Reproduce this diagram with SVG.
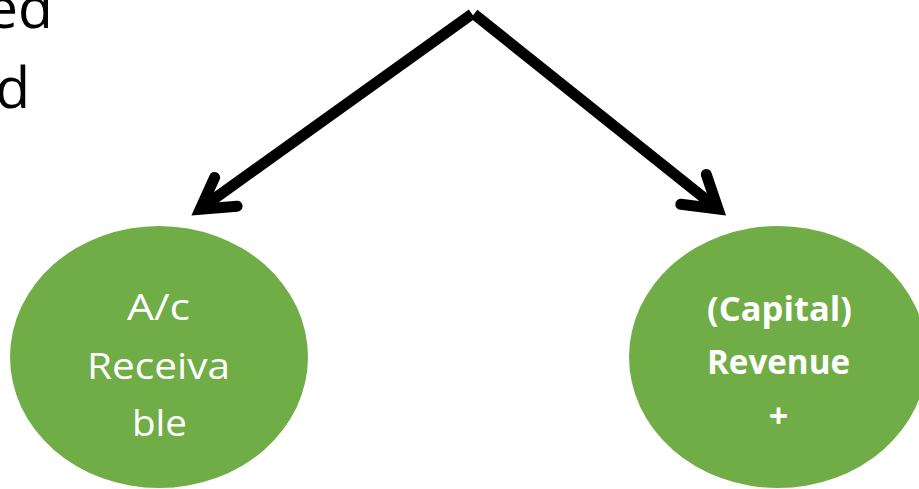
<svg xmlns="http://www.w3.org/2000/svg" width="919" height="489" viewBox="0 0 919 489">
<style>
.node{fill:#70AD47}
.lbl{fill:#ffffff;font-family:"Open Sans","Liberation Sans",sans-serif;text-anchor:middle}
.reg{font-size:37px}
.bold{font-size:34px;font-weight:bold}
.conn{fill:none;stroke:#000;stroke-width:11}
.head{fill:none;stroke:#000;stroke-width:11;stroke-linecap:round;stroke-linejoin:miter}
.side{fill:#000;font-family:"Open Sans","Liberation Sans",sans-serif;font-size:57px;text-anchor:end}
</style>
<rect width="919" height="489" fill="#ffffff"/>
<g id="side-text">
<text class="side" x="53" y="28">ed</text>
<text class="side" x="30" y="108">d</text>
</g>
<g id="connectors">
<path class="conn" d="M472 14 L200 209"/>
<path class="head" d="M214.6 177.4 L200.2 209.2 L237.1 206.2"/>
<path class="conn" d="M474 14 L718 209"/>
<path class="head" d="M706.3 174.5 L718 209 L680.8 204.3"/>
</g>
<g id="node-receivable">
<ellipse class="node" cx="159" cy="357" rx="149" ry="131"/>
<text class="lbl reg" x="158.5" y="320" textLength="63" lengthAdjust="spacingAndGlyphs">A/c</text>
<text class="lbl reg" x="158.5" y="379" textLength="143" lengthAdjust="spacingAndGlyphs">Receiva</text>
<text class="lbl reg" x="159.5" y="436" textLength="55" lengthAdjust="spacingAndGlyphs">ble</text>
</g>
<g id="node-revenue">
<ellipse class="node" cx="778" cy="357" rx="149" ry="131"/>
<text class="lbl bold" x="779.5" y="321" textLength="145" lengthAdjust="spacingAndGlyphs">(Capital)</text>
<text class="lbl bold" x="778.5" y="374" textLength="143" lengthAdjust="spacingAndGlyphs">Revenue</text>
<text class="lbl bold" x="778.5" y="428">+</text>
</g>
</svg>
